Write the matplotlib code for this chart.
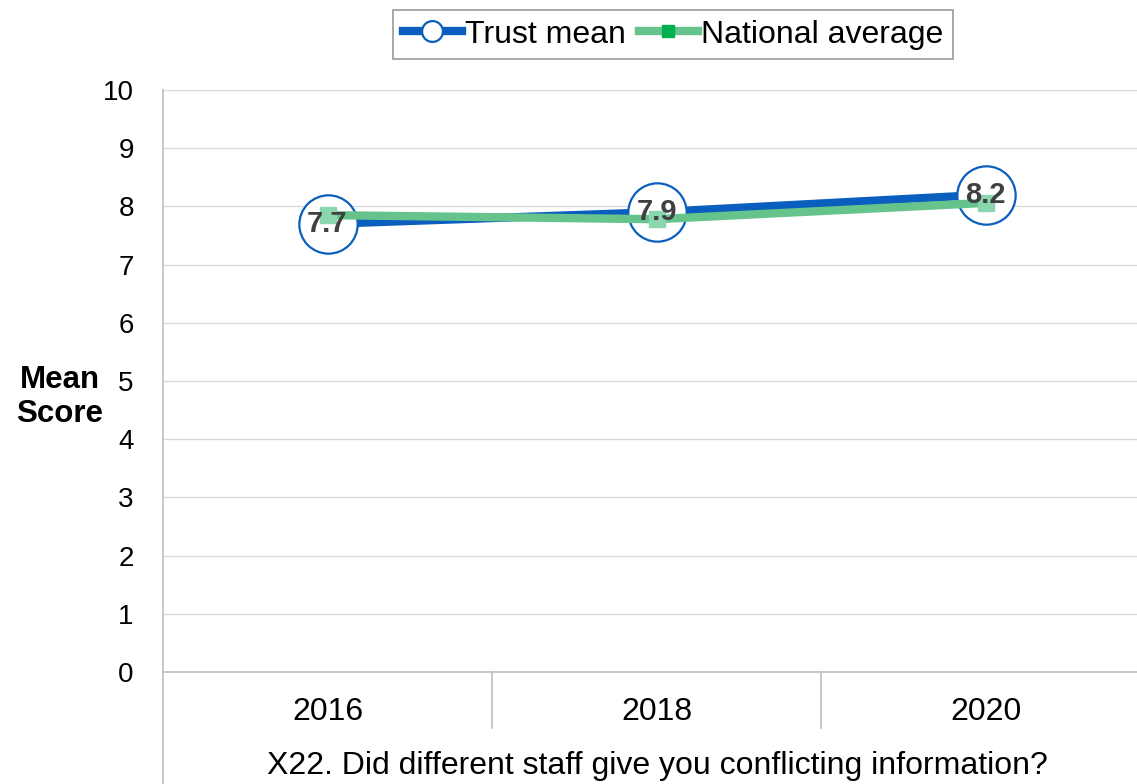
import matplotlib.pyplot as plt
from matplotlib.lines import Line2D

plt.rcParams['font.family'] = ['Liberation Sans', 'DejaVu Sans']

years = ['2016', '2018', '2020']
trust_mean = [7.7, 7.9, 8.2]
national_avg = [7.85, 7.78, 8.06]
question = 'X22. Did different staff give you conflicting information?'

blue = '#0A5EBD'
green = '#66C38C'
grid_col = '#D9D9D9'
axis_col = '#BFBFBF'

fig = plt.figure(figsize=(11.37, 7.84), dpi=100)
W, H = 1137, 784
ax = fig.add_axes([163 / W, 1 - 672 / H, (1150 - 163) / W, (672 - 90) / H])

x = list(range(len(years)))

ax.plot(x, trust_mean, color=blue, lw=6, marker='o', ms=42,
        mfc='white', mec=blue, mew=1.6, zorder=3, solid_capstyle='butt')
ax.plot(x, national_avg, color=green, lw=6, marker='s', ms=11,
        mfc='#8AD6AE', mec='#8AD6AE', zorder=4, solid_capstyle='butt')

for xi, v in zip(x, trust_mean):
    ax.text(xi, v, f'{v:.1f}', ha='center', va='center', fontsize=21,
            fontweight='bold', color='#404040', zorder=5)

ax.set_xlim(-0.5, len(years) - 0.5)
ax.set_ylim(0, 10)
ax.set_yticks(range(0, 11))
ax.set_xticks([])
ax.tick_params(axis='y', length=0, labelsize=20, pad=21)
ax.grid(axis='y', color=grid_col, lw=1)
ax.set_axisbelow(True)

for s in ['top', 'right', 'left']:
    ax.spines[s].set_visible(False)
ax.spines['bottom'].set_color(axis_col)
ax.spines['bottom'].set_linewidth(1.2)

# left border runs down through the category label area
fig.add_artist(Line2D([163 / W, 163 / W], [0, 1 - 90 / H], color=axis_col, lw=1.2))

# category separators below the axis
for b in [0.5, 1.5]:
    bx = ax.transData.transform((b, 0))[0] / W
    fig.add_artist(Line2D([bx, bx], [1 - 672 / H, 1 - 728 / H], color=axis_col, lw=1.2))

for xi, yr in zip(x, years):
    ax.text(xi, -40 / (672 - 90), yr, transform=ax.get_xaxis_transform(),
            ha='center', va='center', fontsize=23)

fig.text(657 / W, 1 - 766 / H, question, ha='center', va='center', fontsize=23)

fig.text(60 / W, 1 - 397 / H, 'Mean\nScore', ha='center', va='center',
         fontsize=22.5, fontweight='bold', linespacing=1.15)

handles = [
    Line2D([], [], color=blue, lw=6, marker='o', ms=15, mfc='white', mec=blue, mew=1.6),
    Line2D([], [], color=green, lw=6, marker='s', ms=9, mfc='#00B050', mec='#00B050'),
]
leg = fig.legend(handles, ['Trust mean', 'National average'], loc='upper center',
                 bbox_to_anchor=(673 / W, 1 - 10 / H), ncol=2, fontsize=23,
                 frameon=True, fancybox=False, edgecolor='#808080',
                 handlelength=1.85, handletextpad=0.1, columnspacing=0.4,
                 borderpad=0.3, borderaxespad=0)
leg.get_frame().set_linewidth(1.2)

fig.savefig('out.png', dpi=100)
